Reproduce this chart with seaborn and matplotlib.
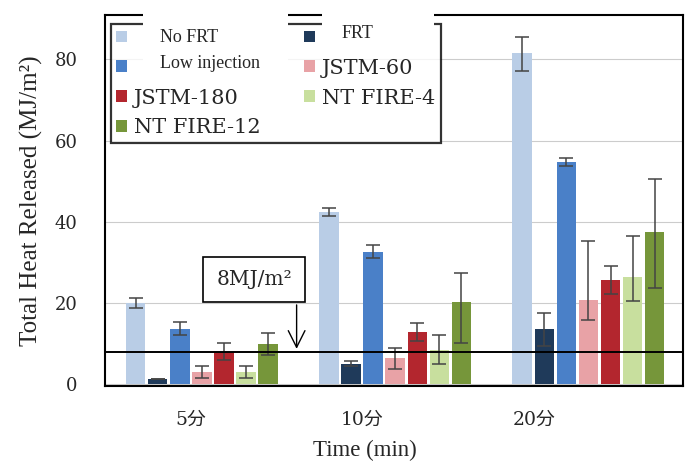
import pandas as pd
import matplotlib.pyplot as plt
import seaborn as sns
from matplotlib.patches import Patch, Rectangle

# Data
times = ['5分', '10分', '20分']
series = ['No FRT', 'FRT', 'Low injection', 'JSTM-60', 'JSTM-180', 'NT FIRE-4', 'NT FIRE-12']
colors = ['#b9cde6', '#1f3a5a', '#4a80c8', '#e8a2a6', '#b3262e', '#c8df9e', '#76963a']

no_frt = [20.0, 42.5, 81.5]
frt = [1.2, 5.0, 13.5]
low_injection = [13.6, 32.6, 54.8]
jstm_60 = [3.0, 6.4, 20.7]
jstm_180 = [8.0, 12.9, 25.7]
nt_fire_4 = [3.0, 8.5, 26.4]
nt_fire_12 = [9.9, 20.2, 37.5]

# error bar lengths below / above the bar top
err_low = [[1.2, 1.0, 4.3], [0.0, 0.6, 4.0], [1.6, 1.6, 1.0], [1.4, 2.6, 5.0],
           [2.1, 2.2, 3.5], [1.4, 3.5, 6.0], [2.7, 10.0, 13.8]]
err_high = [[1.2, 1.0, 4.0], [0.0, 0.6, 4.0], [1.6, 1.6, 1.0], [1.4, 2.6, 14.6],
            [2.1, 2.2, 3.5], [1.4, 3.5, 10.0], [2.7, 7.2, 13.0]]

threshold = 8

values = [no_frt, frt, low_injection, jstm_60, jstm_180, nt_fire_4, nt_fire_12]
df = pd.DataFrame({
    'Time': times * len(series),
    'Series': [s for s in series for _ in times],
    'THR': [v for vals in values for v in vals],
})

sns.set_theme(style='white')
plt.rcParams['font.family'] = ['Liberation Serif', 'Noto Sans CJK JP']

fig = plt.figure(figsize=(6.88, 4.63), dpi=100)
ax = fig.add_axes([0.153, 0.166, 0.840, 0.802])

sns.barplot(data=df, x='Time', y='THR', hue='Series', hue_order=series,
            palette=colors, saturation=1, width=0.8, gap=0.12, legend=False,
            ax=ax, errorbar=None, linewidth=0, zorder=2)

# error bars placed on the bars seaborn drew
bar_conts = list(ax.containers)
for i, cont in enumerate(bar_conts):
    xs = [b.get_x() + b.get_width() / 2 for b in cont]
    ax.errorbar(xs, values[i], yerr=[err_low[i], err_high[i]], fmt='none',
                ecolor='#444444', elinewidth=1.1, capsize=5, capthick=1.1, zorder=4)

ax.set_ylim(-0.5, 91)
ax.set_xlim(-0.5, 2.49)
ax.set_yticks([0, 20, 40, 60, 80])
# tick labels sit a bit left of the bar groups in the original
ax.set_xticks([-0.06, 0.83, 1.72], times)
ax.yaxis.grid(True, color='#cccccc', lw=0.8)
ax.set_axisbelow(True)
ax.axhline(threshold, color='black', lw=1.4, zorder=5)

for sp in ax.spines.values():
    sp.set_color('black')
    sp.set_linewidth(1.5)

ax.tick_params(axis='y', length=0, pad=20, labelsize=13,
               labelfontfamily='DejaVu Serif')
ax.tick_params(axis='x', length=0, pad=18, labelsize=13.5,
               labelfontfamily=['DejaVu Serif', 'Noto Sans CJK JP'])

ax.set_xlabel('Time (min)', fontsize=16.5)
ax.xaxis.set_label_coords(0.45, -0.145)
ax.set_ylabel('Total Heat Released (MJ/m²)', fontsize=18, labelpad=8)

# annotation box + arrow to the 8 MJ/m2 line
ax.text(0.27, 25.8, '8MJ/m²', ha='center', va='center', fontsize=14.5,
        fontfamily='DejaVu Serif', zorder=6,
        bbox=dict(boxstyle='square,pad=0.65', fc='white', ec='black', lw=1.2))
ax.annotate('', xy=(0.49, threshold), xytext=(0.49, 20.2),
            arrowprops=dict(arrowstyle='->', color='black', lw=1, mutation_scale=30),
            zorder=6)

# legend, column-major order for 2 columns
order = [0, 2, 4, 6, 1, 3, 5]
overlay = ['No FRT', 'Low injection', 'FRT']
handles = [Patch(facecolor=colors[i], edgecolor='none') for i in order]
labels = ['' if series[i] in overlay else series[i] for i in order]
leg = ax.legend(handles, labels, ncol=2, loc='upper left',
                bbox_to_anchor=(0.01, 0.976), borderaxespad=0, frameon=True,
                fancybox=False, prop={'family': 'DejaVu Serif', 'size': 15},
                handlelength=0.5, handleheight=0.5, handletextpad=0.35,
                columnspacing=2.1, labelspacing=0.52, borderpad=0.25)
leg.get_frame().set_edgecolor('black')
leg.get_frame().set_linewidth(1.6)

# pasted-over labels with white patches, as in the original
fig.add_artist(Rectangle((143 / 688, 1 - 84 / 463), 145 / 688, 74 / 463,
                         transform=fig.transFigure, fc='white', ec='none', zorder=10))
fig.add_artist(Rectangle((322 / 688, 1 - 48 / 463), 112 / 688, 36 / 463,
                         transform=fig.transFigure, fc='white', ec='none', zorder=10))
fig.text(160 / 688, 1 - 37 / 463, 'No FRT', fontsize=13, va='center', zorder=11)
fig.text(160 / 688, 1 - 63 / 463, 'Low injection', fontsize=13, va='center', zorder=11)
fig.text(342 / 688, 1 - 34 / 463, 'FRT', fontsize=13, va='center', zorder=11)

fig.savefig('out.png', dpi=100)
